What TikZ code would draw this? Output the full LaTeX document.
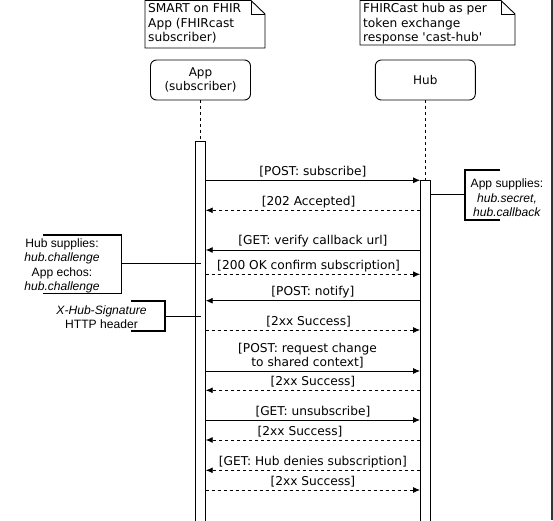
\documentclass[tikz,border=0pt]{standalone}
\usepackage{fontspec}
\setmainfont{DejaVu Sans}
\newfontfamily\asidefont{Liberation Sans}
\usetikzlibrary{positioning}
\usetikzlibrary{calc}
\usetikzlibrary{arrows.meta}

\begin{document}
\begin{tikzpicture}[x=1pt,y=-1pt,
  actor/.style={draw,line width=0.9pt,rounded corners=6pt,minimum width=100pt,minimum height=40pt,align=center,font=\fontsize{12}{14}\selectfont},
  bar/.style={draw,line width=0.9pt,fill=white,minimum width=9.5pt,minimum height=420pt,anchor=north,inner sep=0pt},
  notetext/.style={inner sep=0pt,align=left,anchor=north west,font=\fontsize{12.2}{14.5}\selectfont},
  aside/.style={inner sep=0pt,align=center,font=\asidefont\fontsize{12.1}{14.2}\selectfont},
  msg/.style={inner sep=0pt,above=2.3pt,align=center,font=\fontsize{12.2}{13.7}\selectfont},
  call/.style={-{Latex[length=7pt,width=6pt]},line width=0.9pt},
  reply/.style={-{Latex[length=7pt,width=6pt]},dashed,line width=0.9pt},
  life/.style={dashed,line width=0.8pt},
  brace/.style={line width=1.8pt},
  link/.style={line width=1pt}]
\useasboundingbox (0,0) rectangle (553,520);
\fill[black!80] (551,0) rectangle (553,520);

% notes on top
\draw[line width=0.9pt] (145,0.5) -- (251,0.5) -- (265,14) -- (265,48) -- (145,48) -- cycle;
\draw[line width=0.9pt] (251,0.5) -- (251,14) -- (265,14);
\draw[line width=0.9pt] (360,0.5) -- (501,0.5) -- (515,14) -- (515,45) -- (360,45) -- cycle;
\draw[line width=0.9pt] (501,0.5) -- (501,14) -- (515,14);
\node[notetext](appnote) at (148,3.3){SMART on FHIR\\App (FHIRcast\\subscriber)};
\node[notetext](hubnote) at (363,3.3){FHIRCast hub as per\\token exchange\\response \textquotesingle cast-hub\textquotesingle};

% participants
\node[actor](app) at (200.5,80){App\\(subscriber)};
\node[actor](hub) at (425.3,80){Hub};
\node[bar](appbar) at (200.5,141){};
\node[bar](hubbar) at (425.3,180){};
\path
(app) edge[life] (appbar)
(hub) edge[life] (hubbar);

\foreach \n/\y in {1/180.3,2/210.3,3/250,4/274.3,5/300.7,6/330,7/371,8/390.3,9/420,10/440,11/470.3,12/490}{
  \coordinate (a\n) at (appbar.east |- 0,\y);
  \coordinate (h\n) at (hubbar.west |- 0,\y);
}

% messages
\path
(a1) edge[call] node[msg]{[POST: subscribe]} (h1)
(h2) edge[reply] node[msg,pos=0.52]{[202 Accepted]} (a2)
(h3) edge[call] node[msg]{[GET: verify callback url]} (a3)
(a4) edge[reply] node[msg,pos=0.48]{[200 OK confirm subscription]} (h4)
(h5) edge[call] node[msg]{[POST: notify]} (a5)
(a6) edge[reply] node[msg,pos=0.48]{[2xx Success]} (h6)
(a7) edge[call] node[msg,pos=0.475]{[POST: request change\\to shared context]} (h7)
(h8) edge[reply] node[msg]{[2xx Success]} (a8)
(a9) edge[call] node[msg]{[GET: unsubscribe]} (h9)
(h10) edge[reply] node[msg,pos=0.56]{[2xx Success]} (a10)
(h11) edge[reply] node[msg]{[GET: Hub denies subscription]} (a11)
(a12) edge[reply] node[msg]{[2xx Success]} (h12);

% side remarks
\node[aside](secret) at (507,197.7){App supplies:\\\textit{hub.secret,}\\\textit{hub.callback}};
\coordinate (secretbr) at (465,194.3);
\draw[brace] (500,170) -| (465,220) -- (500,220);
\path (hubbar.east |- secretbr) edge[link] (secretbr);

\node[aside](challenge) at (62,265.8){Hub supplies:\\\textit{hub.challenge}\\App echos:\\\textit{hub.challenge}};
\coordinate (challengebr) at (121.5,263.5);
\draw[brace] (43,235) -| (121.5,293.5) -- (43,293.5);
\path (challengebr) edge[link] (appbar.center |- challengebr);

\node[aside](signature) at (101.5,317.5){\textit{X-Hub-Signature}\\HTTP header};
\coordinate (signaturebr) at (165,316.5);
\draw[brace] (130.5,300.7) -| (165,331) -- (130.5,331);
\path (signaturebr) edge[link] (appbar.center |- signaturebr);
\end{tikzpicture}
\end{document}
